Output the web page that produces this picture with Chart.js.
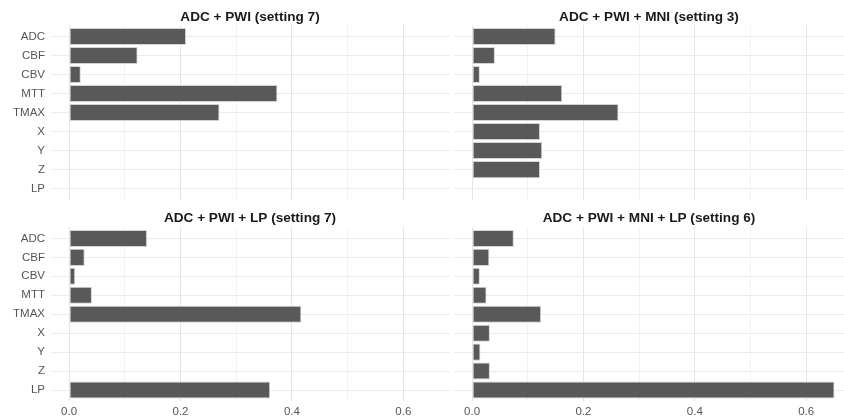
<!DOCTYPE html>
<html>
<head>
<meta charset="utf-8">
<script src="https://cdn.jsdelivr.net/npm/chart.js@4.4.0/dist/chart.umd.min.js"></script>
<style>
  html, body { margin: 0; padding: 0; background: #fff; }
  body { width: 844px; height: 419px; position: relative; overflow: hidden; }
  .panel { position: absolute; }
</style>
</head>
<body>
<div class="panel" style="left:0;top:0;width:449px;height:200px"><canvas id="p1"></canvas></div>
<div class="panel" style="left:454px;top:0;width:390px;height:200px"><canvas id="p2"></canvas></div>
<div class="panel" style="left:0;top:200px;width:449px;height:219px"><canvas id="p3"></canvas></div>
<div class="panel" style="left:454px;top:200px;width:390px;height:219px"><canvas id="p4"></canvas></div>
<script>
const features = ['ADC', 'CBF', 'CBV', 'MTT', 'TMAX', 'X', 'Y', 'Z', 'LP'];
const xTicks = [0, 0.1, 0.2, 0.3, 0.4, 0.5, 0.6];

const titles = [
  'ADC + PWI (setting 7)',
  'ADC + PWI + MNI (setting 3)',
  'ADC + PWI + LP (setting 7)',
  'ADC + PWI + MNI + LP (setting 6)'
];

const adcPwi       = [0.210, 0.123, 0.021, 0.374, 0.270, 0, 0, 0, 0];
const adcPwiMni    = [0.150, 0.041, 0.014, 0.162, 0.263, 0.122, 0.126, 0.122, 0];
const adcPwiLp     = [0.140, 0.028, 0.011, 0.041, 0.417, 0, 0, 0, 0.361];
const adcPwiMniLp  = [0.075, 0.031, 0.014, 0.026, 0.124, 0.032, 0.015, 0.032, 0.651];

Chart.defaults.font.family = "'Liberation Sans', Arial, sans-serif";
Chart.defaults.font.size = 11.5;
Chart.defaults.color = '#555555';

function makePanel(id, title, values, showY, showX, xMax) {
  const ctx = document.getElementById(id).getContext('2d');
  const chart = new Chart(ctx, {
    type: 'bar',
    data: {
      datasets: [{
        data: values.map((v, i) => ({ x: v, y: i })),
        backgroundColor: '#595959',
        borderColor: '#d4d4d4',
        borderWidth: 1,
        borderSkipped: false,
        barPercentage: 0.9,
        categoryPercentage: 1
      }]
    },
    options: {
      indexAxis: 'y',
      responsive: true,
      maintainAspectRatio: false,
      animation: false,
      layout: { padding: 0 },
      plugins: {
        legend: { display: false },
        tooltip: { enabled: false },
        title: {
          display: true,
          text: title,
          fullSize: false,
          color: '#1a1a1a',
          font: { size: 13.6, weight: 'bold', lineHeight: 1.15 },
          padding: showX ? { top: 10, bottom: 1.4 } : { top: 9.4, bottom: 0 }
        }
      },
      scales: {
        x: {
          type: 'linear',
          min: -0.0325,
          max: xMax,
          offset: false,
          border: { display: false },
          grid: {
            offset: false,
            drawTicks: false,
            color: c => (Math.round(c.tick.value * 10) % 2 === 0) ? '#e6e6e6' : '#f2f2f2'
          },
          afterBuildTicks: s => { s.ticks = xTicks.map(v => ({ value: v })); },
          afterFit: s => { s.height = showX ? 17.6 : 0; s.paddingLeft = 0; s.paddingRight = 0; },
          ticks: {
            display: showX,
            padding: 4,
            maxRotation: 0,
            autoSkip: false,
            callback: v => (Math.round(v * 10) % 2 === 0) ? v.toFixed(1) : ''
          }
        },
        y: {
          type: 'linear',
          reverse: true,
          min: -0.6,
          max: features.length - 1 + 0.6,
          offset: false,
          border: { display: false },
          grid: { offset: false, drawTicks: false, color: '#ebebeb' },
          afterBuildTicks: s => { s.ticks = features.map((f, i) => ({ value: i })); },
          afterFit: s => { s.width = showY ? 51 : 0; s.paddingTop = 0; s.paddingBottom = 0; },
          ticks: {
            display: showY,
            padding: 6,
            autoSkip: false,
            callback: v => features[v]
          }
        }
      }
    }
  });
  return chart;
}

makePanel('p1', titles[0], adcPwi, true, false, 0.682);
makePanel('p2', titles[1], adcPwiMni, false, false, 0.668);
makePanel('p3', titles[2], adcPwiLp, true, true, 0.682);
makePanel('p4', titles[3], adcPwiMniLp, false, true, 0.668);
</script>
</body>
</html>
